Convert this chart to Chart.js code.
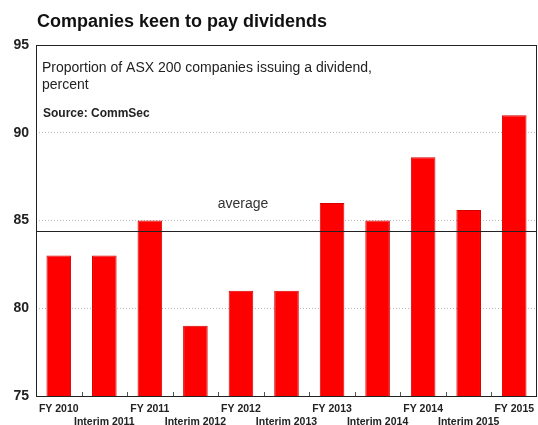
<!DOCTYPE html>
<html>
<head>
<meta charset="utf-8">
<script src="https://cdn.jsdelivr.net/npm/chart.js@4"></script>
<style>
  html, body { margin: 0; padding: 0; background: #fff; }
  #wrap { width: 538px; height: 425px; position: relative; }
</style>
</head>
<body>
<div id="wrap"><canvas id="divChart"></canvas></div>
<script>
// Share of ASX 200 companies paying a dividend, by reporting period
var periods = ['FY 2010', 'Interim 2011', 'FY 2011', 'Interim 2012', 'FY 2012', 'Interim 2013',
               'FY 2013', 'Interim 2014', 'FY 2014', 'Interim 2015', 'FY 2015'];
var payingPct = [83, 83, 85, 79, 81, 81, 86, 85, 88.6, 85.6, 91];
var averagePct = 84.4;
var yTicks = [75, 80, 85, 90, 95];

var FONT = '"Liberation Sans", Arial, sans-serif';

// frame, average line, category ticks and the header texts
var decor = {
  id: 'decor',
  beforeDatasetsDraw: function (chart) {
    var c = chart.ctx, a = chart.chartArea;
    c.save();
    // category separators along the bottom edge
    c.strokeStyle = '#555';
    c.lineWidth = 1;
    var step = (a.right - a.left) / periods.length;
    for (var i = 1; i < periods.length; i++) {
      var px = Math.round(a.left + step * i) + 0.5;
      c.beginPath(); c.moveTo(px, a.bottom); c.lineTo(px, a.bottom - 4); c.stroke();
    }
    c.restore();
  },
  afterDatasetsDraw: function (chart) {
    var c = chart.ctx, a = chart.chartArea, y = chart.scales.y;
    c.save();
    // average line
    var ay = Math.round(y.getPixelForValue(averagePct)) + 0.5;
    c.strokeStyle = '#222';
    c.lineWidth = 1.2;
    c.beginPath(); c.moveTo(a.left, ay); c.lineTo(a.right, ay); c.stroke();
    c.fillStyle = '#333';
    c.font = '14px ' + FONT;
    c.textAlign = 'center';
    c.textBaseline = 'alphabetic';
    c.fillText('average', 243, 208);

    // frame
    c.strokeStyle = '#222';
    c.lineWidth = 1;
    c.strokeRect(Math.round(a.left) + 0.5, Math.round(a.top) + 0.5,
                 Math.round(a.right - a.left) - 1, Math.round(a.bottom - a.top));

    // texts
    c.textAlign = 'left';
    c.fillStyle = '#111';
    c.font = 'bold 18px ' + FONT;
    c.fillText('Companies keen to pay dividends', 37, 27);
    c.fillStyle = '#222';
    c.font = '14px ' + FONT;
    c.fillText('Proportion of ASX 200 companies issuing a dividend,', 42, 72);
    c.fillText('percent', 42, 89);
    c.font = 'bold 12px ' + FONT;
    c.fillText('Source: CommSec', 43, 117);
    c.restore();
  }
};

new Chart(document.getElementById('divChart'), {
  type: 'bar',
  data: {
    labels: periods,
    datasets: [{
      data: payingPct,
      backgroundColor: '#ff0000',
      borderColor: '#d40000',
      borderWidth: 1,
      categoryPercentage: 1,
      barPercentage: 0.54
    }]
  },
  options: {
    responsive: true,
    maintainAspectRatio: false,
    animation: false,
    layout: { padding: { top: 45, right: 1, bottom: 0, left: 0 } },
    plugins: { legend: { display: false }, tooltip: { enabled: false }, title: { display: false } },
    scales: {
      x: {
        grid: { display: false, drawTicks: false },
        border: { display: false },
        ticks: {
          autoSkip: false,
          maxRotation: 0,
          padding: 7,
          color: '#222',
          font: { family: FONT, size: 10.5, weight: 'bold', lineHeight: 1.2 },
          callback: function (v, i) {
            return i % 2 === 0 ? periods[i] : ['', periods[i]];
          }
        },
        afterFit: function (s) {
          s.height = 29;
          // let the end labels hang past the frame instead of shrinking it
          s.paddingLeft = 0;
          s.paddingRight = 0;
        }
      },
      y: {
        min: yTicks[0],
        max: yTicks[yTicks.length - 1],
        afterBuildTicks: function (s) { s.ticks = yTicks.map(function (v) { return { value: v }; }); },
        grid: {
          color: function (ctx) {
            var v = ctx.tick && ctx.tick.value;
            return (v === 75 || v === 95) ? 'rgba(0,0,0,0)' : '#bbb';
          },
          lineWidth: 1,
          drawTicks: false
        },
        border: { display: false, dash: [1, 2] },
        ticks: {
          padding: 7,
          color: '#222',
          font: { family: FONT, size: 14, weight: 'bold' }
        },
        afterFit: function (s) { s.width = 36; }
      }
    }
  },
  plugins: [decor]
});
</script>
</body>
</html>
